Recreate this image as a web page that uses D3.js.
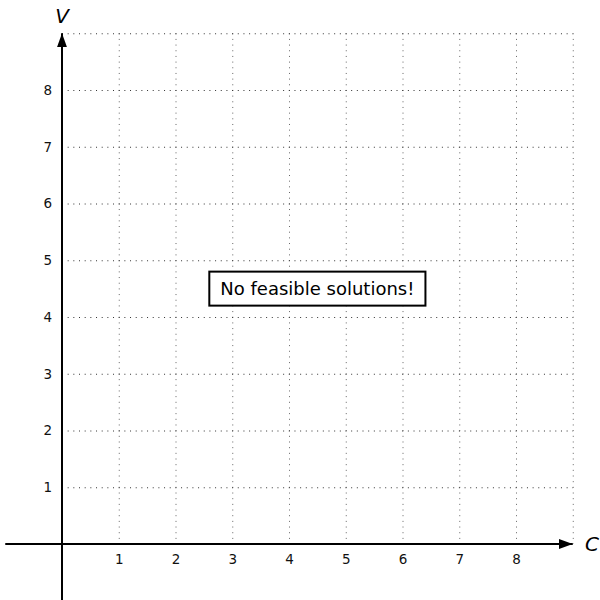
<!DOCTYPE html>
<html>
<head>
<meta charset="utf-8">
<script src="https://cdn.jsdelivr.net/npm/d3@7"></script>
<style>
  body { margin: 0; background: #fff; }
  svg { display: block; font-family: 'DejaVu Sans', sans-serif; }
</style>
</head>
<body>
<div class="chart"></div>
<script>
const xTicks = [1, 2, 3, 4, 5, 6, 7, 8];
const yTicks = [1, 2, 3, 4, 5, 6, 7, 8];
const gridValues = [1, 2, 3, 4, 5, 6, 7, 8, 9];
const domainMin = -1, domainMax = 9;
const xLabel = 'C', yLabel = 'V';
const message = 'No feasible solutions!';
const messageAt = [4.5, 4.5];

const width = 600, height = 600;
const svg = d3.select('.chart').append('svg')
  .attr('width', width).attr('height', height);

const x = d3.scaleLinear().domain([0, 9]).range([62, 572.75]);
const y = d3.scaleLinear().domain([0, 9]).range([544, 33.25]);

// dotted grid
const grid = svg.append('g').attr('class', 'grid')
  .attr('stroke', '#333').attr('stroke-width', 1).attr('stroke-dasharray', '1,4.67');
grid.selectAll('.v').data(gridValues).enter().append('line')
  .attr('stroke', '#666')
  .attr('x1', d => x(d) + 0.5).attr('x2', d => x(d) + 0.5)
  .attr('y1', y(9)).attr('y2', y(0));
grid.selectAll('.h').data(gridValues).enter().append('line')
  .attr('y1', d => y(d) + 0.5).attr('y2', d => y(d) + 0.5)
  .attr('x1', x(0)).attr('x2', x(9));

// arrowhead
svg.append('defs').append('marker')
  .attr('id', 'arrow').attr('viewBox', '0 0 14 10')
  .attr('refX', 14).attr('refY', 5)
  .attr('markerWidth', 14).attr('markerHeight', 10)
  .attr('markerUnits', 'userSpaceOnUse').attr('orient', 'auto')
  .append('path').attr('d', 'M0,0 L14,5 L0,10 Z').attr('fill', '#000');

// axes lines
svg.append('line')
  .attr('x1', x(domainMin)).attr('x2', x(domainMax))
  .attr('y1', y(0)).attr('y2', y(0))
  .attr('stroke', '#000').attr('stroke-width', 2).attr('marker-end', 'url(#arrow)');
svg.append('line')
  .attr('x1', x(0)).attr('x2', x(0))
  .attr('y1', y(domainMin)).attr('y2', y(domainMax))
  .attr('stroke', '#000').attr('stroke-width', 2).attr('marker-end', 'url(#arrow)');

// tick labels
const xAxis = svg.append('g')
  .attr('transform', 'translate(0,' + y(0) + ')')
  .call(d3.axisBottom(x).tickValues(xTicks).tickSize(0).tickPadding(10).tickFormat(d3.format('d')));
const yAxis = svg.append('g')
  .attr('transform', 'translate(' + x(0) + ',0)')
  .call(d3.axisLeft(y).tickValues(yTicks).tickSize(0).tickPadding(10).tickFormat(d3.format('d')));
[xAxis, yAxis].forEach(function (g) {
  g.attr('font-size', 13.5).attr('font-family', 'DejaVu Sans, sans-serif');
  g.select('.domain').remove();
  g.selectAll('text').attr('fill', '#111');
});

// axis titles
svg.append('text').attr('x', 592).attr('y', y(0)).attr('dy', '0.36em')
  .attr('text-anchor', 'middle').attr('font-size', 20).attr('font-style', 'italic').text(xLabel);
svg.append('text').attr('x', x(0)).attr('y', 16).attr('dy', '0.36em')
  .attr('text-anchor', 'middle').attr('font-size', 20).attr('font-style', 'italic').text(yLabel);

// message box
const msg = svg.append('g')
  .attr('transform', 'translate(' + x(messageAt[0]) + ',' + y(messageAt[1]) + ')');
const label = msg.append('text').attr('text-anchor', 'middle').attr('dy', '0.36em')
  .attr('font-size', 18).text(message);
const bb = label.node().getBBox();
msg.insert('rect', 'text')
  .attr('x', -bb.width / 2 - 11).attr('y', -17)
  .attr('width', bb.width + 22).attr('height', 34)
  .attr('fill', '#fff').attr('stroke', '#000').attr('stroke-width', 2);
</script>
</body>
</html>
